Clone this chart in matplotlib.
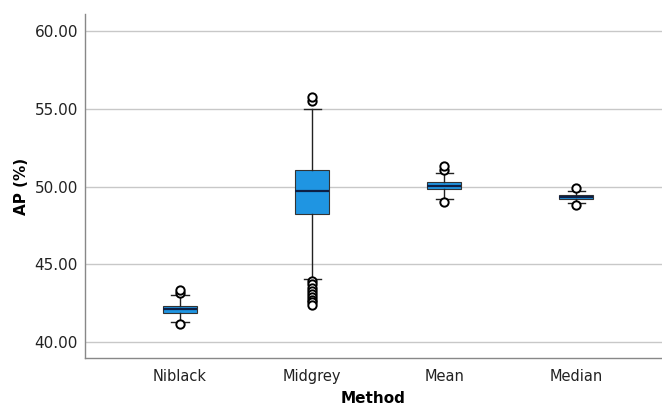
import matplotlib
matplotlib.use("Agg")
import matplotlib.pyplot as plt
from matplotlib.ticker import FormatStrFormatter

methods = ["Niblack", "Midgrey", "Mean", "Median"]
q1 = [41.89, 48.23, 49.82, 49.18]
med = [42.10, 49.71, 50.05, 49.32]
q3 = [42.34, 51.08, 50.27, 49.45]
whislo = [41.27, 44.05, 49.18, 48.92]
whishi = [43.02, 54.98, 50.85, 49.73]
fliers = [
    [43.15, 43.32, 41.16],
    [55.50, 55.78, 43.90, 43.70, 43.50, 43.30, 43.10, 42.90, 42.70, 42.55, 42.40],
    [51.06, 51.35, 49.02],
    [49.88, 48.81],
]
yticks = [40, 45, 50, 55, 60]

fig = plt.figure(figsize=(6.62, 4.07), dpi=100)
ax = fig.add_axes([85/662, 1-358/407, 1-85/662, (358-14)/407])

stats = []
for i, m in enumerate(methods):
    stats.append(dict(label=m, q1=q1[i], med=med[i], q3=q3[i],
                      whislo=whislo[i], whishi=whishi[i], fliers=fliers[i]))

ax.bxp(stats, positions=range(len(methods)), widths=0.26, patch_artist=True,
       boxprops=dict(facecolor="#1f95e2", edgecolor="#333333", linewidth=0.8),
       medianprops=dict(color="#0d1f45", linewidth=1.6),
       whiskerprops=dict(color="#222222", linewidth=1.0),
       capprops=dict(color="#222222", linewidth=1.0),
       capwidths=0.13,
       flierprops=dict(marker="o", markerfacecolor="white", markeredgecolor="black",
                       markersize=6, markeredgewidth=1.4))

ax.set_xlim(-0.72, 3.65)
ax.set_ylim(38.97, 61.1)
ax.set_yticks(yticks)
ax.yaxis.set_major_formatter(FormatStrFormatter("%.2f"))
ax.grid(axis="y", color="#c8c8c8", linewidth=1.0)
ax.set_axisbelow(True)
for s in ["top", "right"]:
    ax.spines[s].set_visible(False)
for s in ["left", "bottom"]:
    ax.spines[s].set_color("#888888")
    ax.spines[s].set_linewidth(1.0)
ax.tick_params(axis="y", length=0, pad=5, labelsize=11, labelcolor="#222222")
ax.tick_params(axis="x", length=0, pad=8, labelsize=10.5, labelcolor="#222222")
ax.set_xlabel("Method", fontsize=11, fontweight="bold", labelpad=5)
ax.set_ylabel("AP (%)", fontsize=11, fontweight="bold", labelpad=4)

fig.savefig("out.png", dpi=100)
